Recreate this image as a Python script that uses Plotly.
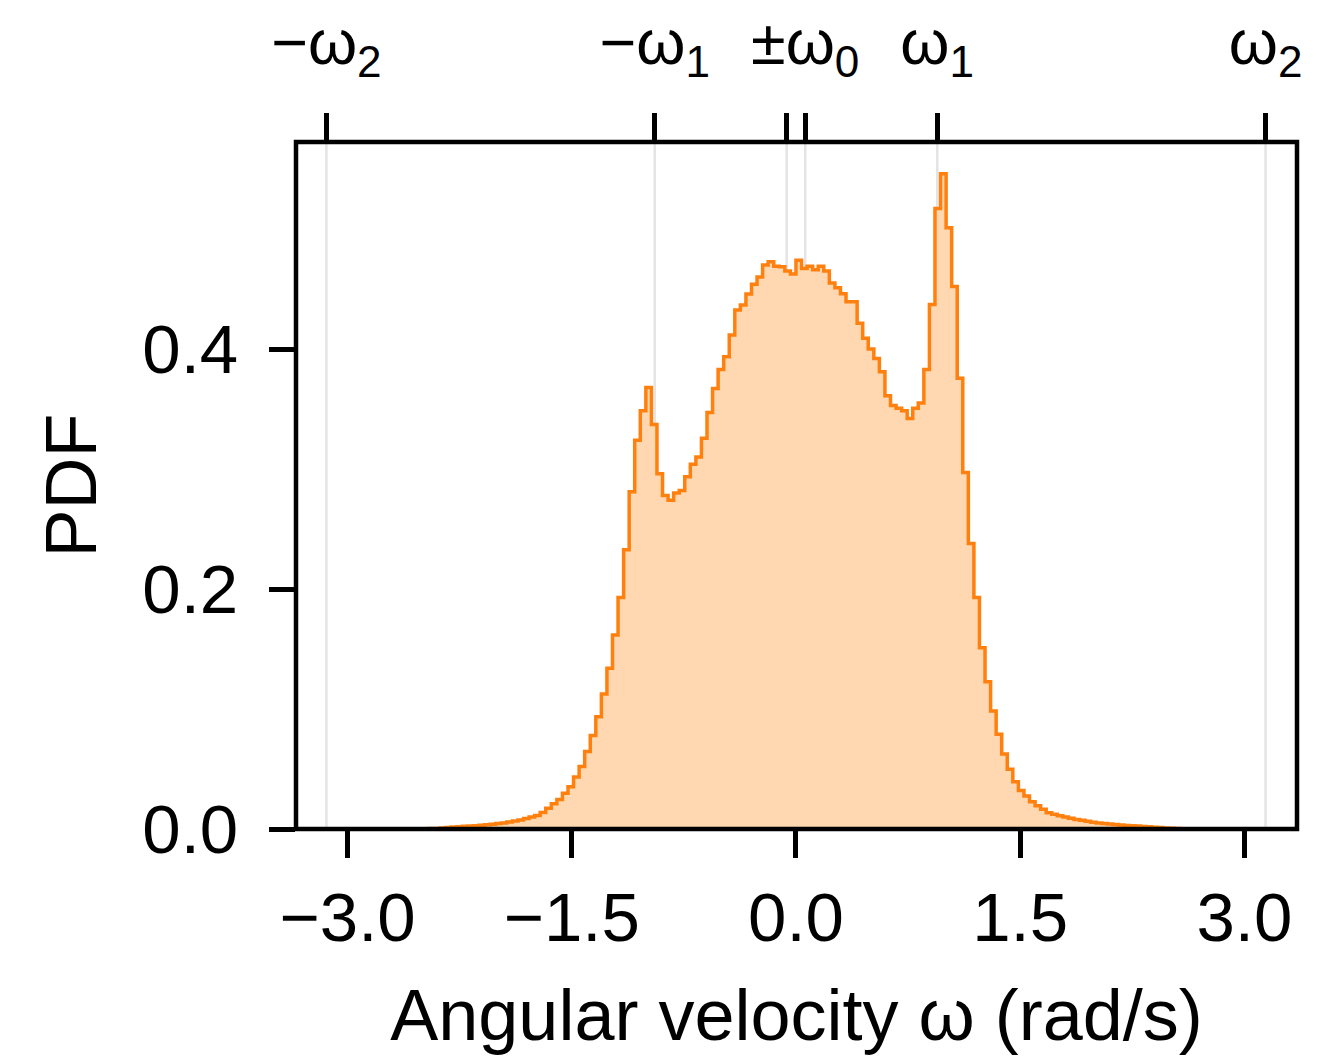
import numpy as np
import plotly.graph_objects as go

# ---- data ----
bin_width = 0.0372
first_bin_index = -70
pdf_values = [
    0.0001, 0.0002, 0.0002, 0.0003, 0.0004, 0.0005, 0.0008, 0.0012, 0.0016, 0.0019,  # -70..-61
    0.0022, 0.0025, 0.0028, 0.0032, 0.0036, 0.0040, 0.0045, 0.0051, 0.0058, 0.0066,  # -60..-51
    0.0076, 0.0087, 0.0099, 0.0113, 0.0138, 0.0172, 0.0210, 0.0245, 0.0297, 0.0353,  # -50..-41
    0.0433, 0.0520, 0.0645, 0.0780, 0.0936, 0.1125, 0.1340, 0.1617, 0.1930, 0.2328,  # -40..-31
    0.2810, 0.3240, 0.3486, 0.3680, 0.3370, 0.2960, 0.2780, 0.2740, 0.2800, 0.2820,  # -30..-21
    0.2936, 0.3040, 0.3100, 0.3256, 0.3470, 0.3670, 0.3830, 0.3936, 0.4117, 0.4325,  # -20..-11
    0.4367, 0.4458, 0.4540, 0.4600, 0.4700, 0.4728, 0.4690, 0.4686, 0.4650, 0.4625,  # -10..-1
    0.4740, 0.4670, 0.4690, 0.4660, 0.4690, 0.4650, 0.4550, 0.4510, 0.4460, 0.4394,  # 0..9
    0.4394, 0.4214, 0.4090, 0.4000, 0.3920, 0.3810, 0.3610, 0.3530, 0.3506, 0.3486,  # 10..19
    0.3420, 0.3506, 0.3550, 0.3830, 0.4370, 0.5170, 0.5460, 0.5010, 0.4520, 0.3756,  # 20..29
    0.2970, 0.2380, 0.1930, 0.1510, 0.1228, 0.0983, 0.0790, 0.0625, 0.0497, 0.0394,  # 30..39
    0.0320, 0.0275, 0.0228, 0.0194, 0.0164, 0.0136, 0.0122, 0.0110, 0.0100, 0.0089,  # 40..49
    0.0080, 0.0072, 0.0064, 0.0057, 0.0051, 0.0046, 0.0041, 0.0037, 0.0033, 0.0030,  # 50..59
    0.0027, 0.0024, 0.0021, 0.0018, 0.0015, 0.0012, 0.0009, 0.0007, 0.0005, 0.0003,  # 60..69
]

x_tick_vals = [-3.0, -1.5, 0.0, 1.5, 3.0]
x_tick_text = ["\u22123.0", "\u22121.5", "0.0", "1.5", "3.0"]
y_tick_vals = [0.0, 0.2, 0.4]
y_tick_text = ["0.0", "0.2", "0.4"]

omega0 = 0.062
omega1 = 0.945
omega2 = np.pi
top_tick_vals = [-omega2, -omega1, -omega0, omega0, omega1, omega2]
top_tick_text = ["\u2212\u03c9<sub>2</sub>", "\u2212\u03c9<sub>1</sub>", "",
                 "\u00b1\u03c9<sub>0</sub>", "\u03c9<sub>1</sub>", "\u03c9<sub>2</sub>"]

x_range = [-3.345, 3.352]
y_range = [0.0, 0.5725]

# ---- figure ----
edges = (first_bin_index + np.arange(len(pdf_values) + 1)) * bin_width
ys = list(pdf_values) + [pdf_values[-1]]

FONT = "Liberation Sans, Arial, Helvetica, sans-serif"
LW = 4.5

fig = go.Figure()
fig.add_trace(go.Scatter(
    x=edges, y=ys, mode="lines", line=dict(color="#ff800e", width=3.5, shape="hv"),
    fill="tozeroy", fillcolor="#ffd8b1", hoverinfo="skip", showlegend=False,
))
# dummy trace to activate top axis
fig.add_trace(go.Scatter(
    x=[top_tick_vals[0]], y=[0.3], xaxis="x2", mode="markers",
    marker=dict(opacity=0), hoverinfo="skip", showlegend=False,
))

for v in top_tick_vals:
    fig.add_shape(type="line", x0=v, x1=v, y0=0, y1=1, xref="x", yref="paper",
                  line=dict(color="#e4e4e4", width=2.5), layer="below")

# frame drawn on top of the data (like matplotlib spines)
fig.add_shape(type="rect", x0=0, x1=1, y0=0, y1=1, xref="paper", yref="paper",
              line=dict(color="black", width=LW), fillcolor="rgba(0,0,0,0)", layer="above")

fig.update_layout(
    width=1317, height=1059,
    margin=dict(l=288, r=28, t=134, b=238),
    paper_bgcolor="white", plot_bgcolor="white",
    font=dict(family=FONT, color="black", size=69),
    xaxis=dict(
        range=x_range, tickvals=x_tick_vals, ticktext=x_tick_text,
        ticks="outside", ticklen=28, tickwidth=LW, tickcolor="black",
        showline=False, showgrid=False, zeroline=False, ticklabelstandoff=0,
        tickfont=dict(size=69), automargin=False,
        title=dict(text="Angular velocity \u03c9 (rad/s)", font=dict(size=72), standoff=34),
    ),
    xaxis2=dict(
        range=x_range, overlaying="x", side="top", anchor="y",
        tickvals=top_tick_vals, ticktext=top_tick_text,
        ticks="outside", ticklen=28, tickwidth=LW, tickcolor="black",
        showline=False, showgrid=False, zeroline=False,
        tickfont=dict(size=63), ticklabelstandoff=24, automargin=False,
    ),
    yaxis=dict(
        range=y_range, tickvals=y_tick_vals, ticktext=y_tick_text,
        ticks="outside", ticklen=26, tickwidth=LW, tickcolor="black",
        showline=False, showgrid=False, zeroline=False, ticklabelstandoff=17,
        tickfont=dict(size=69), automargin=False,
        title=dict(text="PDF", font=dict(size=72), standoff=22),
    ),
)

fig.write_html("out.html")
